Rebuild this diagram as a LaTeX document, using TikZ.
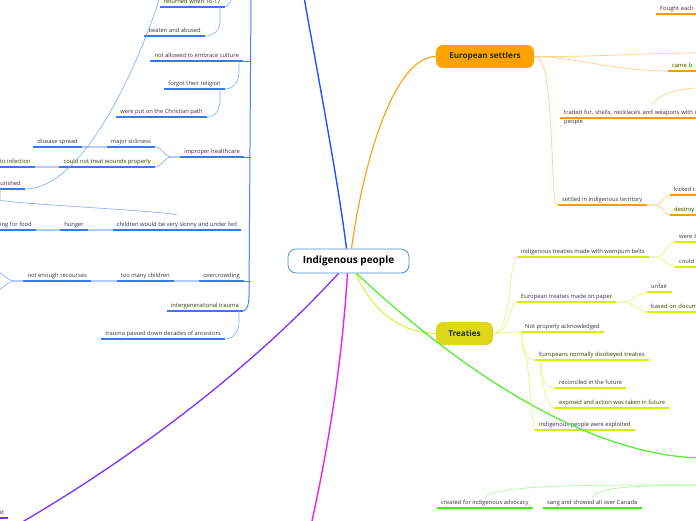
\documentclass[tikz,border=0pt]{standalone}
\usepackage{fontspec}
\setmainfont{Open Sans}
\usetikzlibrary{calc}

\definecolor{txt}{HTML}{333333}
\definecolor{txtdark}{HTML}{22301A}
\definecolor{cborder}{HTML}{4A8FD0}
\definecolor{bmain}{HTML}{1F55FF}
\definecolor{btrunk}{HTML}{4A84F5}
\definecolor{bline}{HTML}{3B78F0}
\definecolor{bthin}{HTML}{7FA6FF}
\definecolor{bpale}{HTML}{B3CCFF}
\definecolor{omain}{HTML}{FFA31A}
\definecolor{onode}{HTML}{FFA200}
\definecolor{oline}{HTML}{FF9C00}
\definecolor{othin}{HTML}{FFD089}
\definecolor{ynode}{HTML}{DDD81A}
\definecolor{ymain}{HTML}{DDF040}
\definecolor{yline}{HTML}{D2F000}
\definecolor{ythin}{HTML}{E6F47A}
\definecolor{gmain}{HTML}{4CEE2A}
\definecolor{gline}{HTML}{44EE11}
\definecolor{gthin}{HTML}{B0F5A0}
\definecolor{pmain}{HTML}{7A30FF}
\definecolor{mmain}{HTML}{EE22EE}

\tikzset{
    hub/.style={
           rectangle, draw=cborder, line width=0.8pt, fill=white,
           rounded corners=8pt,
           minimum width=121pt, minimum height=24pt,
           font=\bfseries\fontsize{10}{12}\selectfont, text=black,
           },
    mainsub/.style={
           rectangle, rounded corners=7pt, minimum height=23pt,
           font=\bfseries\fontsize{8.1}{9}\selectfont, text=txtdark,
           },
    topic/.style={
           font=\fontsize{5.8}{7}\selectfont, text=txt,
           inner xsep=4pt, inner ysep=2pt,
           text height=4.4pt, text depth=1.5pt,
           },
    uline/.style={
           append after command={(\tikzlastnode.south west) edge[#1, line width=1.6pt] (\tikzlastnode.south east)},
           },
    btopic/.style={topic, uline=bline, anchor=south east},
    otopic/.style={topic, uline=oline, anchor=south west},
    ytopic/.style={topic, uline=yline, anchor=south west},
    gtopic/.style={topic, uline=gline, anchor=south west},
    ptopic/.style={topic, uline=pmain, anchor=south east},
    redge/.style={text width=60pt, align=left},
    bthinline/.style={bthin, line width=0.6pt},
    bpaleline/.style={bpale, line width=1.1pt},
    othinline/.style={othin, line width=0.7pt},
    ythinline/.style={ythin, line width=0.7pt},
    gthinline/.style={gthin, line width=0.7pt},
}

\begin{document}
\begin{tikzpicture}[x=1pt, y=-1pt]
\useasboundingbox (0,0) rectangle (696,520);
\clip (0,0) rectangle (696,520);

       % centre and the two big topics
       \node[hub] (cen) at (348.5,261) {Indigenous people};
       \node[mainsub, fill=onode, minimum width=98pt] (es) at (485,56.5) {European settlers};
       \node[mainsub, fill=ynode, minimum width=57pt] (tr) at (464.5,333.5) {Treaties};

       % blue side
       \node[btopic] (ret) at (225,7) {returned when 16-17};
       \node[btopic] (beat) at (205,36) {beaten and abused};
       \node[btopic] (cult) at (243,61) {not allowed to embrace culture};
       \node[btopic] (relig) at (225,89) {forgot their religion};
       \node[btopic] (chris) at (207,117) {were put on the Christian path};
       \node[btopic] (heal) at (244,157) {improper healthcare};
       \node[btopic] (sick) at (155,147) {major sickness};
       \node[btopic] (spread) at (82,147) {disease spread};
       \node[btopic] (wound) at (155,167) {could not treat wounds properly};
       \node[btopic] (infect) at (35,167) {to infection};
       \node[btopic] (nour) at (25,189) {urished};
       \node[btopic] (skinny) at (241,230) {children would be very skinny and under fed};
       \node[btopic] (hunger) at (88,230) {hunger};
       \node[btopic] (food) at (36,230) {ing for food};
       \node[btopic] (crowd) at (244,281) {overcrowding};
       \node[btopic] (many) at (174,281) {too many children};
       \node[btopic] (recour) at (91,281) {not enough recourses};
       \node[btopic] (inter) at (243,311) {intergenerational trauma};
       \node[btopic] (ances) at (225,339) {trauma passed down decades of ancestors};

       % orange side
       \node[otopic, redge] (fought) at (656,14) {Fought each o};
       \node[otopic, redge] (came) at (668,71) {came b};
       \node[otopic, text width=170pt, align=left, font=\fontsize{5.8}{9}\selectfont] (traded) at (560,118)
            {traded fur, shells, necklace's and weapons with i\\people};
       \node[otopic] (settled) at (558,205) {settled in indigenous territory};
       \node[otopic, redge] (kicked) at (670,195) {kicked t};
       \node[otopic, redge] (destroy) at (670,215) {destroy};

       % yellow side
       \node[ytopic] (wamp) at (517,257) {indigenous treaties made with wampum belts};
       \node[ytopic, redge] (wereb) at (675,242) {were b};
       \node[ytopic, redge] (couldl) at (675,267) {could l};
       \node[ytopic] (paper) at (517,302) {European treaties made on paper};
       \node[ytopic] (unfair) at (647,292) {unfair};
       \node[ytopic, redge] (based) at (647,312) {based on docume};
       \node[ytopic] (ack) at (521,332) {Not properly acknowledged};
       \node[ytopic] (disob) at (535,360) {Europeans normally disobeyed treaties};
       \node[ytopic] (recon) at (555,388) {reconciled in the future};
       \node[ytopic] (expo) at (555,408) {exposed and action was taken in future};
       \node[ytopic] (explo) at (535,430) {indigenous people were exploited};

       % green and purple
       \node[gtopic] (advo) at (437,508) {created for indigenous advocacy};
       \node[gtopic] (sang) at (543,508) {sang and showed all over Canada};
       \node[ptopic] (pat) at (8,518) {at};

       % loose ends outside the frame
       \coordinate (btop) at (251,-3);
       \coordinate (rtop) at (232,-3);
       \coordinate (ntop) at (160,-3);
       \coordinate (rl1) at (-2,271);
       \coordinate (rl2) at (-2,291);
       \coordinate (oR1) at (700,53);
       \coordinate (oR2) at (700,88);
       \coordinate (gR) at (700,485);

       % main branches
       \draw[bmain, line width=1.4pt] ([xshift=-2pt]cen.north) .. controls (338,180) and (315,60) .. (304,-3);
       \draw[omain, line width=1.2pt] ([xshift=3pt]cen.north) .. controls (362,170) and (392,57) .. (es.west);
       \draw[ymain, line width=1.1pt] ([xshift=7pt]cen.south) .. controls (372,310) and (400,333) .. (tr.west);
       \draw[gmain, line width=1.2pt] ([xshift=8pt]cen.south) .. controls (465,375) and (590,455) .. (700,458);
       \draw[pmain, line width=1.3pt] ([xshift=-10pt]cen.south) .. controls (250,370) and (130,460) .. (12,528);
       \draw[mmain, line width=1.4pt] ([xshift=-1pt]cen.south) .. controls (342,360) and (330,440) .. (310,530);

       % blue connectors
       \draw[btrunk, line width=1pt] (btop) -- (249,296) .. controls (249,306) and (246,311) .. (inter.south east);
       \draw[btrunk, line width=0.8pt] (cult.south east) -- (cult.south east -| btop);
       \draw[btrunk, line width=0.8pt] (heal.south east) -- (heal.south east -| btop);
       \draw[btrunk, line width=0.8pt] (crowd.south east) -- (crowd.south east -| btop);
       \draw[bthinline] (ret.south east) .. controls (229,5) and (231,2) .. (rtop);
       \draw[bthinline] ([xshift=-5pt]ret.south east) -- ++(0,14) .. controls +(0,10) and +(8,0) .. (beat.south east);
       \draw[bthinline] ([xshift=-4pt]cult.south east) -- ++(0,11) .. controls +(0,10) and +(8,0) .. (relig.south east);
       \draw[bthinline] ([xshift=-5pt]relig.south east) -- ++(0,11) .. controls +(0,10) and +(8,0) .. (chris.south east);
       \draw[bthinline] (heal.south west) -- ++(-10,0) .. controls +(-4,0) and +(6,0) .. (sick.south east);
       \draw[bthinline] (heal.south west) -- ++(-10,0) .. controls +(-4,0) and +(6,0) .. (wound.south east);
       \draw[bpaleline] (spread.south east) -- (sick.south west);
       \draw[bpaleline] (infect.south east) -- (wound.south west);
       \draw[bthinline] (nour.south east) .. controls (85,189) and (140,60) .. (ntop);
       \draw[bthinline] ([xshift=4pt]nour.south west) -- ++(0,11) .. controls +(3,3) and +(-20,-4) .. ([yshift=5pt]skinny.north);
       \draw[bpaleline] (hunger.south east) -- (skinny.south west);
       \draw[bpaleline] (food.south east) -- (hunger.south west);
       \draw[bpaleline] (many.south east) -- (crowd.south west);
       \draw[bpaleline] (recour.south east) -- (many.south west);
       \draw[bthinline] (recour.south west) -- ++(-10,0) .. controls +(-4,0) and +(4,3) .. (rl1);
       \draw[bthinline] (recour.south west) -- ++(-10,0) .. controls +(-4,0) and +(4,-3) .. (rl2);
       \draw[bthinline] ([xshift=-4pt]inter.south east) -- ++(0,11) .. controls +(0,10) and +(8,0) .. (ances.south east);

       % orange connectors
       \draw[othinline] (es.east) .. controls (600,57) and (640,53) .. (oR1);
       \draw[othinline] (es.east) .. controls (575,57) and (615,71) .. (came.south west);
       \draw[othinline] ([xshift=92pt,yshift=3pt]traded.north west) .. controls +(3,-6) and +(-30,0) .. (oR2);
       \draw[othinline] (es.east) .. controls (545,57) and (548,80) .. (551,130) .. controls (554,185) and (553,205) .. (settled.south west);
       \draw[othinline] (settled.south east) -- ++(10,0) .. controls +(5,0) and +(-6,0) .. (kicked.south west);
       \draw[othinline] (settled.south east) -- ++(10,0) .. controls +(5,0) and +(-6,0) .. (destroy.south west);

       % yellow connectors
       \draw[ythinline] (tr.east) .. controls (512,333) and (509,257) .. (wamp.south west);
       \draw[ythinline] (tr.east) .. controls (512,333) and (509,302) .. (paper.south west);
       \draw[ythinline] (tr.east) .. controls (505,333) and (510,332) .. (ack.south west);
       \draw[ythinline] ([xshift=1pt]ack.south west) -- ++(0,12) .. controls +(0,8) and +(-8,0) .. (disob.south west);
       \draw[ythinline] ([xshift=1pt]ack.south west) -- ++(0,12) .. controls +(8,10) and +(-6,-20) .. (explo.south west);
       \draw[ythinline] ([xshift=6pt]disob.south west) -- ++(0,11) .. controls +(0,8) and +(-8,0) .. (recon.south west);
       \draw[ythinline] ([xshift=6pt]disob.south west) -- ++(0,11) .. controls +(2,15) and +(-8,0) .. (expo.south west);
       \draw[ythinline] (wamp.south east) -- ++(8,0) .. controls +(5,0) and +(-6,0) .. (wereb.south west);
       \draw[ythinline] (wamp.south east) -- ++(8,0) .. controls +(5,0) and +(-6,0) .. (couldl.south west);
       \draw[ythinline] (paper.south east) -- ++(9,0) .. controls +(5,0) and +(-6,0) .. (unfair.south west);
       \draw[ythinline] (paper.south east) -- ++(9,0) .. controls +(5,0) and +(-6,0) .. (based.south west);

       % green connectors
       \draw[gthinline] (gR) .. controls (600,485) and (495,484) .. (advo.north);
       \draw[gthinline] (gR) .. controls (640,486) and (598,486) .. (sang.north);

\end{tikzpicture}
\end{document}
